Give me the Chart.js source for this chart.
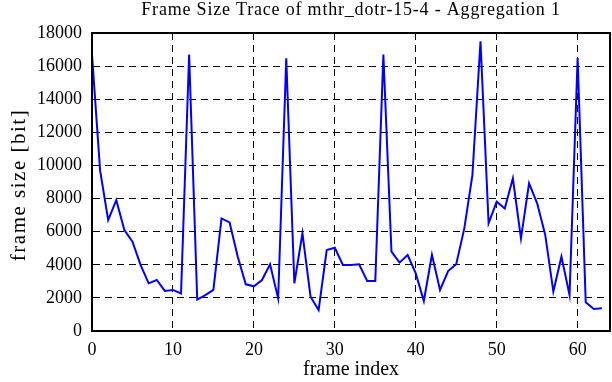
<!DOCTYPE html>
<html>
<head>
<meta charset="utf-8">
<script src="https://cdn.jsdelivr.net/npm/chart.js@4"></script>
<style>
  html, body { margin: 0; padding: 0; background: #fff; }
  #c { display: block; }
</style>
</head>
<body>
<canvas id="c" width="612" height="382"></canvas>
<script>
// Frame size trace data
const frameIndex = [];
for (let i = 0; i < 64; i++) frameIndex.push(i);

const frameSize = [
  16700, 9700, 6700, 7900, 6100, 5400, 4000, 2880, 3080, 2420,
  2480, 2270, 16700, 1900, 2170, 2480, 6800, 6560, 4500, 2820,
  2700, 3080, 4030, 1970, 16470, 2880, 5900, 2070, 1270, 4890,
  5030, 3990, 3990, 4030, 3020, 3020, 16700, 4790, 4130, 4590,
  3480, 1810, 4600, 2480, 3620, 4030, 6200, 9420, 17500, 6500,
  7810, 7400, 9220, 5600, 8920, 7710, 5800, 2380, 4490, 2170,
  16500, 1730, 1330, 1370
];

const xTicks = [0, 10, 20, 30, 40, 50, 60];
const yTicks = [0, 2000, 4000, 6000, 8000, 10000, 12000, 14000, 16000, 18000];

const titleText = 'Frame Size Trace of mthr_dotr-15-4 - Aggregation 1';
const yTitleText = 'frame size [bit]';
const serif = "'Liberation Serif', 'Times New Roman', serif";

Chart.defaults.font.family = serif;
Chart.defaults.color = '#000';

// white background, frame box, title and y label (letter spaced)
const framePlugin = {
  id: 'frame',
  beforeDraw(chart) {
    const ctx = chart.ctx;
    ctx.save();
    ctx.fillStyle = '#fff';
    ctx.fillRect(0, 0, chart.width, chart.height);
    ctx.restore();
  },
  afterDraw(chart) {
    const { ctx, chartArea: a } = chart;
    ctx.save();
    ctx.strokeStyle = '#000';
    ctx.lineWidth = 2;
    ctx.strokeRect(a.left, a.top, a.right - a.left, a.bottom - a.top);
    ctx.fillStyle = '#000';
    ctx.font = '18px ' + serif;
    ctx.letterSpacing = '0.8px';
    ctx.textAlign = 'center';
    ctx.textBaseline = 'alphabetic';
    ctx.fillText(titleText, (a.left + a.right) / 2, 15);

    ctx.font = '21px ' + serif;
    ctx.letterSpacing = '1.5px';
    ctx.translate(25, (a.top + a.bottom) / 2 + 3);
    ctx.rotate(-Math.PI / 2);
    ctx.fillText(yTitleText, 0, 0);
    ctx.restore();
  }
};

new Chart(document.getElementById('c'), {
  type: 'line',
  data: {
    labels: frameIndex,
    datasets: [{
      data: frameIndex.map((x, i) => ({ x: x, y: frameSize[i] })),
      borderColor: '#0000ff',
      borderWidth: 2,
      pointRadius: 0,
      tension: 0,
      fill: false
    }]
  },
  options: {
    responsive: false,
    animation: false,
    layout: { padding: { top: 33, right: 2, left: 0, bottom: 0 } },
    plugins: {
      legend: { display: false },
      tooltip: { enabled: false },
      title: { display: false }
    },
    scales: {
      x: {
        type: 'linear',
        min: 0,
        max: 64,
        afterFit: s => { s.height = 51; },
        afterBuildTicks: s => { s.ticks = xTicks.map(v => ({ value: v })); },
        ticks: {
          includeBounds: false,
          maxRotation: 0,
          padding: 8,
          font: { family: serif, size: 18 },
          callback: v => String(v)
        },
        grid: {
          color: '#000',
          lineWidth: 1,
          drawTicks: false,
          borderDash: [7, 5]
        },
        border: { display: true, color: '#000', width: 2, dash: [7, 5] },
        title: {
          display: true,
          text: 'frame index',
          font: { family: serif, size: 20 },
          padding: { top: 0, bottom: 0 }
        }
      },
      y: {
        type: 'linear',
        min: 0,
        max: 18000,
        afterFit: s => { s.width = 92; },
        afterBuildTicks: s => { s.ticks = yTicks.map(v => ({ value: v })); },
        ticks: {
          padding: 10,
          font: { family: serif, size: 18 },
          callback: v => String(v)
        },
        grid: {
          color: '#000',
          lineWidth: 1,
          drawTicks: false,
          borderDash: [7, 5]
        },
        border: { display: true, color: '#000', width: 2, dash: [7, 5] },
        title: { display: false }
      }
    }
  },
  plugins: [framePlugin]
});
</script>
</body>
</html>
